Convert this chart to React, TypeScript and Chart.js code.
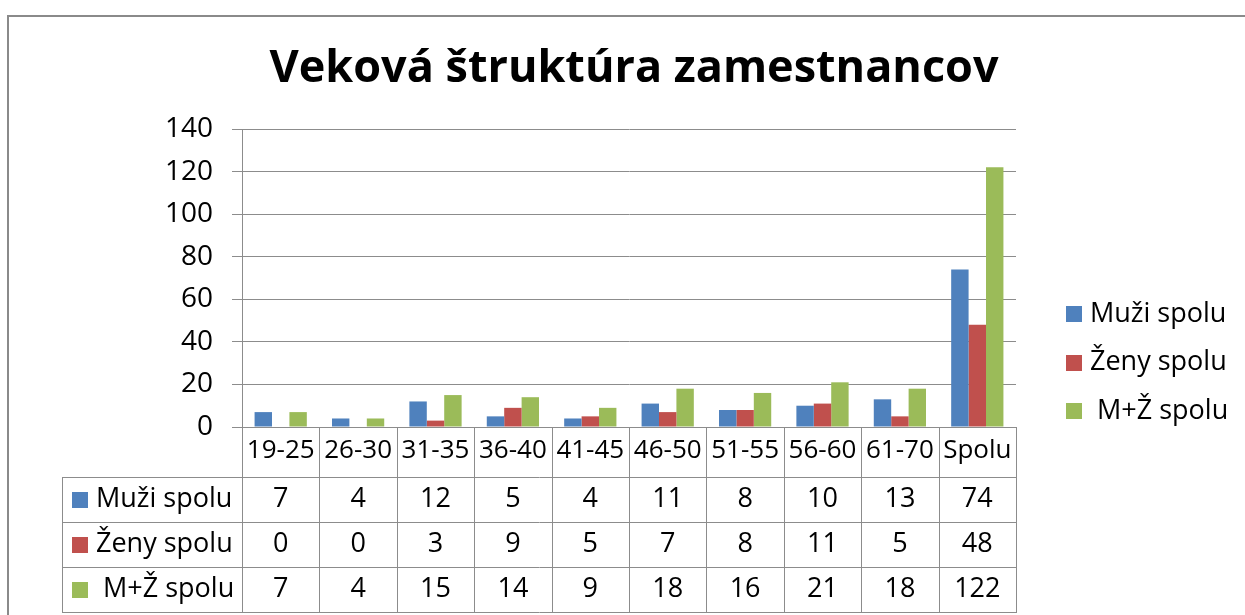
import React, { useEffect, useRef } from 'react';
import { Chart, registerables } from 'chart.js';

Chart.register(...registerables);

const TITLE = 'Veková štruktúra zamestnancov';
const categories = ['19-25', '26-30', '31-35', '36-40', '41-45', '46-50', '51-55', '56-60', '61-70', 'Spolu'];
const seriesNames = ['Muži spolu', 'Ženy spolu', ' M+Ž spolu'];
const muziSpolu = [7, 4, 12, 5, 4, 11, 8, 10, 13, 74];
const zenySpolu = [0, 0, 3, 9, 5, 7, 8, 11, 5, 48];
const mzSpolu = [7, 4, 15, 14, 9, 18, 16, 21, 18, 122];
const seriesValues = [muziSpolu, zenySpolu, mzSpolu];
const seriesColors = ['#4F81BD', '#C0504D', '#9BBB59'];
const yMin = 0;
const yMax = 140;
const yStep = 20;

const FONT = '"Open Sans"';
const LINE = '#8c8c8c';
const TEXT = '#000000';

const tablePlugin = {
  id: 'excelTable',
  afterDraw(chart: any) {
    const ctx = chart.ctx as CanvasRenderingContext2D;
    const xs = chart.scales.x;
    const area = chart.chartArea;
    const n = categories.length;
    const cw = (xs.right - xs.left) / n;
    const headerBottom = area.bottom + 50;
    const rowH = 45;
    const tableLeft = 62;
    const tableBottom = headerBottom + rowH * seriesNames.length;
    const px = (v: number) => Math.round(v) + 0.5;

    ctx.save();
    // frame
    ctx.fillStyle = '#8a8a8a';
    ctx.fillRect(7, 15, chart.width - 7, 2);
    ctx.fillRect(7, 15, 2, chart.height - 15);

    // title
    ctx.fillStyle = TEXT;
    ctx.font = `bold 45px ${FONT}`;
    ctx.textAlign = 'center';
    ctx.textBaseline = 'alphabetic';
    ctx.fillText(TITLE, 634, 82);

    // table lines
    ctx.strokeStyle = LINE;
    ctx.lineWidth = 1;
    ctx.beginPath();
    for (let r = 0; r <= seriesNames.length; r++) {
      const y = px(headerBottom + r * rowH);
      ctx.moveTo(tableLeft, y);
      ctx.lineTo(xs.right + 1, y);
    }
    ctx.moveTo(px(tableLeft), headerBottom);
    ctx.lineTo(px(tableLeft), tableBottom);
    for (let i = 0; i <= n; i++) {
      const x = px(xs.left + i * cw);
      ctx.moveTo(x, area.bottom);
      ctx.lineTo(x, tableBottom);
    }
    ctx.stroke();

    // table content
    ctx.font = `27px ${FONT}`;
    ctx.textBaseline = 'middle';
    for (let r = 0; r < seriesNames.length; r++) {
      const cy = headerBottom + r * rowH + rowH / 2;
      ctx.fillStyle = seriesColors[r];
      ctx.fillRect(72, Math.round(cy - 8), 16, 16);
      ctx.fillStyle = TEXT;
      ctx.textAlign = 'left';
      ctx.fillText(seriesNames[r], 96, cy);
      ctx.textAlign = 'center';
      seriesValues[r].forEach((v, i) => {
        ctx.fillText(String(v), xs.getPixelForValue(i), cy);
      });
    }

    // legend
    ctx.font = `27px ${FONT}`;
    const legendX = area.right + 50;
    for (let r = 0; r < seriesNames.length; r++) {
      const cy = 314 + r * 48.5;
      ctx.fillStyle = seriesColors[r];
      ctx.fillRect(legendX, Math.round(cy - 8), 16, 16);
      ctx.fillStyle = TEXT;
      ctx.textAlign = 'left';
      ctx.fillText(seriesNames[r], legendX + 24, cy);
    }
    ctx.restore();
  },
};

export default function App() {
  const canvasRef = useRef<HTMLCanvasElement | null>(null);

  useEffect(() => {
    if (!canvasRef.current) return;
    const chart = new Chart(canvasRef.current, {
      type: 'bar',
      data: {
        labels: categories,
        datasets: seriesNames.map((name, i) => ({
          label: name,
          data: seriesValues[i],
          backgroundColor: seriesColors[i],
          borderWidth: 0,
          categoryPercentage: 0.675,
          barPercentage: 1,
        })),
      },
      options: {
        animation: false,
        responsive: true,
        maintainAspectRatio: false,
        layout: { padding: { top: 129, right: 229, left: 0, bottom: 0 } },
        plugins: {
          legend: { display: false },
          title: { display: false },
          tooltip: { enabled: false },
        },
        scales: {
          x: {
            grid: { display: false, drawTicks: false },
            border: { display: true, color: LINE, width: 1 },
            ticks: { font: { family: FONT, size: 26 }, color: TEXT, padding: 8, maxRotation: 0, autoSkip: false },
            afterFit: (s: any) => { s.height = 188; },
          },
          y: {
            min: yMin,
            max: yMax,
            ticks: { stepSize: yStep, font: { family: FONT, size: 28 }, color: TEXT, padding: 19 },
            grid: { color: LINE, tickLength: 10, lineWidth: 1 },
            border: { display: true, color: LINE, width: 1 },
            afterFit: (s: any) => { s.width = 242; },
          },
        },
      },
      plugins: [tablePlugin],
    });
    return () => chart.destroy();
  }, []);

  return (
    <div style={{ position: 'absolute', left: 0, top: 0, width: 1245, height: 615, background: '#fff' }}>
      <canvas ref={canvasRef} />
    </div>
  );
}
